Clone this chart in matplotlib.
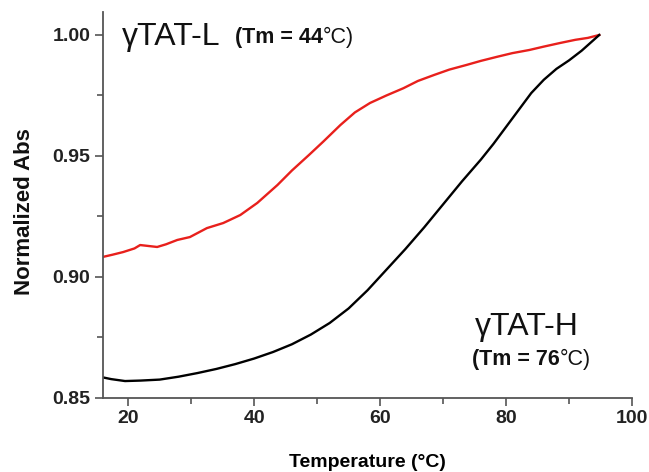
import matplotlib
matplotlib.use("Agg")
import matplotlib.pyplot as plt
from matplotlib.ticker import MultipleLocator, FormatStrFormatter

plt.rcParams['font.family'] = ['Liberation Sans', 'DejaVu Sans']

temp_l = [16.0, 17.5, 19.2, 21.0, 21.9, 24.6, 26.0, 27.8, 29.8, 32.5, 35.1, 37.8,
          40.5, 43.7, 46.0, 48.7, 51.0, 53.7, 56.0, 58.4, 61.0, 63.7, 66.0, 68.6,
          71.0, 73.7, 76.0, 78.6, 81.0, 83.7, 86.0, 88.6, 91.0, 93.0, 94.8]
tat_l = [0.9083, 0.9092, 0.9103, 0.9118, 0.9132, 0.9124, 0.9135, 0.9153, 0.9165,
         0.9202, 0.9223, 0.9256, 0.9306, 0.9380, 0.9440, 0.9504, 0.9560, 0.9628,
         0.9680, 0.9719, 0.9750, 0.9780, 0.9810, 0.9835, 0.9857, 0.9876, 0.9893,
         0.9910, 0.9925, 0.9938, 0.9952, 0.9967, 0.9980, 0.9988, 1.0000]

temp_h = [16.0, 17.3, 19.5, 22.0, 25.0, 28.0, 31.0, 34.0, 37.0, 40.0, 43.0, 46.0,
          49.0, 52.0, 55.0, 58.0, 61.0, 64.0, 67.0, 70.0, 73.0, 76.0, 78.0, 80.0,
          82.0, 84.0, 86.0, 88.0, 90.0, 92.0, 94.8]
tat_h = [0.8585, 0.8578, 0.8570, 0.8572, 0.8576, 0.8588, 0.8603, 0.8620, 0.8640,
         0.8663, 0.8690, 0.8722, 0.8762, 0.8810, 0.8870, 0.8945, 0.9030, 0.9115,
         0.9205, 0.9300, 0.9395, 0.9485, 0.9550, 0.9620, 0.9690, 0.9760, 0.9815,
         0.9860, 0.9895, 0.9935, 1.0000]

fig = plt.figure(figsize=(6.49, 4.72), dpi=100)
ax = fig.add_axes([0.1587, 0.1568, 0.8151, 0.8178])
ax.plot(temp_l, tat_l, color='#e8201c', lw=1.7)
ax.plot(temp_h, tat_h, color='black', lw=1.7)

ax.set_xlim(16.0, 100)
ax.set_ylim(0.85, 1.0095)
ax.xaxis.set_major_locator(MultipleLocator(20))
ax.xaxis.set_minor_locator(MultipleLocator(10))
ax.yaxis.set_major_locator(MultipleLocator(0.05))
ax.yaxis.set_minor_locator(MultipleLocator(0.025))
ax.yaxis.set_major_formatter(FormatStrFormatter('%.2f'))
for s in ['top', 'right']:
    ax.spines[s].set_visible(False)
for s in ['left', 'bottom']:
    ax.spines[s].set_color('#555555')
    ax.spines[s].set_linewidth(1.3)
ax.tick_params(which='both', direction='out', color='#555555', width=1.2)
ax.tick_params(which='major', length=6, labelsize=14, pad=3)
ax.tick_params(which='minor', length=4)
for lab in ax.get_xticklabels() + ax.get_yticklabels():
    lab.set_fontweight('bold')
    lab.set_color('#222222')

ax.set_xlabel('Temperature (°C)', fontsize=14, fontweight='bold')
ax.xaxis.set_label_coords(0.5, -0.145)
fig.text(25 / 649, 1 - 212 / 472, 'Normalized Abs', fontsize=16, fontweight='bold',
         rotation=90, ha='center', va='center', color='#111111')

t1 = ax.text(19.0, 0.9959, 'γTAT-L', fontsize=23, va='baseline', ha='left', color='#111111')
t2 = ax.text(37.0, 0.9965, '(Tm = 44', fontsize=15.5, fontweight='bold', va='baseline', ha='left', color='#111111')
ax.annotate('°C)', xy=(1, 0), xycoords=t2, fontsize=15.5, va='bottom', ha='left', color='#111111')

t3 = ax.text(75.1, 0.8760, 'γTAT-H', fontsize=23, va='baseline', ha='left', color='#111111')
t4 = ax.text(74.6, 0.8636, '(Tm = 76', fontsize=15.5, fontweight='bold', va='baseline', ha='left', color='#111111')
ax.annotate('°C)', xy=(1, 0), xycoords=t4, fontsize=15.5, va='bottom', ha='left', color='#111111')

fig.savefig('out.png', dpi=100)
